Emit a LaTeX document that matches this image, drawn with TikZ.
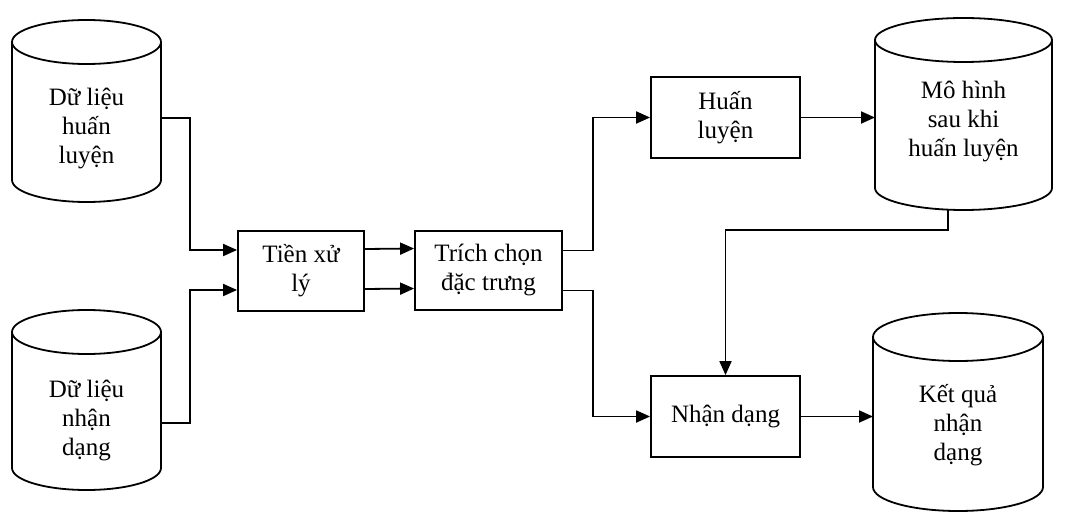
\documentclass[tikz,border=0pt]{standalone}
\usepackage{fontspec}
\setmainfont{Liberation Serif}
\usetikzlibrary{arrows.meta}

\tikzset{
  line/.style={line width=1.8pt, black},
  flow/.style={line, -{Triangle[length=14pt,width=12pt]}},
  label text/.style={font=\fontsize{25}{29}\selectfont, align=center, inner sep=0pt},
  stepbox/.style={line, draw, rectangle, font=\fontsize{25}{29}\selectfont, align=center, inner sep=0pt},
}

% database cylinder: name, left, right, top, bottom, rim radius, text centre y, text
\newcommand\dbcyl[8]{%
  \pgfmathsetmacro\cylcx{(#2+#3)/2}%
  \pgfmathsetmacro\cylrx{(#3-#2)/2}%
  \pgfmathsetmacro\cylcy{(#4+#5)/2}%
  \node[inner sep=0pt, outer sep=0pt, minimum width={(#3-#2)*1pt}, minimum height={(#5-#4)*1pt}] (#1) at (\cylcx,\cylcy) {};
  \draw[line] (\cylcx,#4+#6) ellipse [x radius=\cylrx pt, y radius=#6 pt];
  \draw[line] (#2,#4+#6) -- (#2,#5-#6) arc[start angle=180, end angle=360, x radius=\cylrx pt, y radius=#6 pt] -- (#3,#4+#6);
  \node[label text] (#1-t) at (\cylcx,#7) {#8};
}

\begin{document}
\begin{tikzpicture}[x=1pt,y=-1pt]
  \useasboundingbox (0,0) rectangle (1065,513);

  % data stores
  \dbcyl{d1}{12}{161}{20}{202}{22}{129}{Dữ liệu\\huấn\\luyện}
  \dbcyl{d2}{12}{161}{310}{490}{22}{420}{Dữ liệu\\nhận\\dạng}
  \dbcyl{m}{875}{1052}{18}{210}{22}{122}{Mô hình\\sau khi\\huấn luyện}
  \dbcyl{k}{873}{1043}{313}{511}{24}{425}{Kết quả\\nhận\\dạng}

  % processing steps
  \node[stepbox, minimum width=126pt, minimum height=80pt] (tien) at (301,271) {Tiền xử\\lý};
  \node[stepbox, minimum width=147pt, minimum height=79pt] (trich) at (488.5,270.5) {Trích chọn\\đặc trưng};
  \node[stepbox, minimum width=149pt, minimum height=81pt] (huan) at (725.5,117.5) {Huấn\\luyện};
  \node[stepbox, minimum width=149pt, minimum height=81pt] (nhan) at (725.5,416.5) {Nhận dạng};

  % connectors
  \draw[flow] ([yshift=-7pt]d1.east) -- ++(29,0) |- ([yshift=21pt]tien.west);
  \draw[flow] ([yshift=-23pt]d2.east) -- ++(29,0) |- ([yshift=-19pt]tien.west);
  \draw[flow] ([yshift=22pt]tien.east) -- ([yshift=22pt]trich.west);
  \draw[flow] ([yshift=-18pt]tien.east) -- ([yshift=-18pt]trich.west);
  \draw[flow] ([yshift=20pt]trich.east) -- ++(30,0) |- (huan.west);
  \draw[flow] ([yshift=-20pt]trich.east) -- ++(30,0) |- (nhan.west);
  \draw[flow] (huan.east) -- (huan.east -| m.west);
  \draw[flow] ([xshift=-15.5pt]m.south) -- ++(0,20) -| (nhan.north);
  \draw[flow] (nhan.east) -- (nhan.east -| k.west);
\end{tikzpicture}
\end{document}
